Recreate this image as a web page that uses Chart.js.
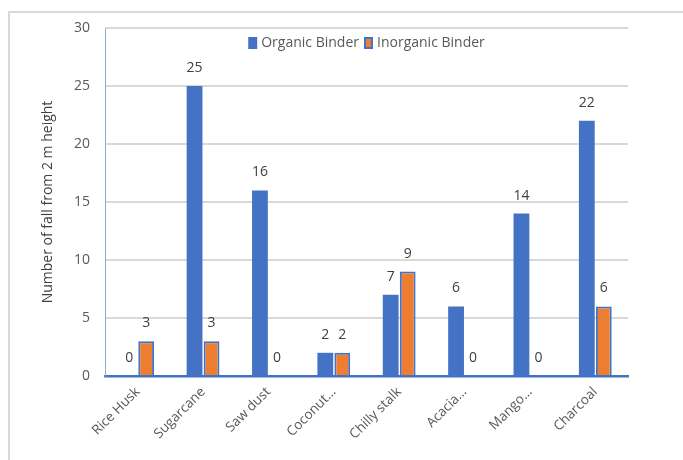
<!DOCTYPE html>
<html>
<head>
<meta charset="utf-8">
<script src="https://cdn.jsdelivr.net/npm/chart.js@4/dist/chart.umd.min.js"></script>
<style>
  html, body { margin: 0; padding: 0; background: #fff; overflow: hidden; }
  #frame { position: absolute; left: 8px; top: 11px; width: 720px; height: 480px; border: 2px solid #d9d9d9; }
  #wrap { position: absolute; left: 0; top: 0; width: 683px; height: 460px; }
</style>
</head>
<body>
<div id="frame"></div>
<div id="wrap"><canvas id="chart" width="683" height="460"></canvas></div>
<script>
// data
var categories = ['Rice Husk', 'Sugarcane', 'Saw dust', 'Coconut…', 'Chilly stalk', 'Acacia…', 'Mango…', 'Charcoal'];
var organic = [0, 25, 16, 2, 7, 6, 14, 22];
var inorganic = [3, 3, 0, 2, 9, 0, 0, 6];
var yTicks = [0, 5, 10, 15, 20, 25, 30];

var FONT = "'Open Sans', 'Liberation Sans', sans-serif";

// value labels above every bar
var barLabels = {
  id: 'barLabels',
  afterDatasetsDraw: function(chart) {
    var ctx = chart.ctx;
    ctx.save();
    ctx.font = '14px ' + FONT;
    ctx.fillStyle = '#404040';
    ctx.textAlign = 'center';
    ctx.textBaseline = 'bottom';
    chart.data.datasets.forEach(function(ds, i) {
      chart.getDatasetMeta(i).data.forEach(function(bar, j) {
        ctx.fillText(String(ds.data[j]), bar.x, bar.y - 11);
      });
    });
    ctx.restore();
  }
};

// legend drawn inside the top of the plot, in one row
var innerLegend = {
  id: 'innerLegend',
  afterDatasetsDraw: function(chart) {
    var ctx = chart.ctx;
    var area = chart.chartArea;
    ctx.save();
    ctx.font = '14px ' + FONT;
    ctx.textBaseline = 'middle';
    var boxW = 9, boxH = 12, gap = 4, sep = 5;
    var items = chart.data.datasets.map(function(ds) {
      return { ds: ds, w: boxW + gap + ctx.measureText(ds.label).width };
    });
    var total = items.reduce(function(s, it) { return s + it.w; }, 0) + sep * (items.length - 1);
    var x = (area.left + area.right) / 2 - total / 2;
    var y = area.top + 15;
    items.forEach(function(it) {
      ctx.fillStyle = it.ds.borderColor;
      ctx.fillRect(x, y - boxH / 2, boxW, boxH);
      if (it.ds.borderWidth) {
        ctx.fillStyle = it.ds.backgroundColor;
        ctx.fillRect(x + 2, y - boxH / 2 + 2, boxW - 4, boxH - 4);
      }
      ctx.fillStyle = '#595959';
      ctx.fillText(it.ds.label, x + boxW + gap, y);
      x += it.w + sep;
    });
    ctx.restore();
  }
};

new Chart(document.getElementById('chart').getContext('2d'), {
  type: 'bar',
  data: {
    labels: categories,
    datasets: [{
      label: 'Organic Binder',
      data: organic,
      backgroundColor: '#4472C4',
      borderColor: '#4472C4',
      borderWidth: 0,
      categoryPercentage: 0.52,
      barPercentage: 0.93
    }, {
      label: 'Inorganic Binder',
      data: inorganic,
      backgroundColor: '#ED7D31',
      borderColor: '#4472C4',
      borderWidth: 2,
      categoryPercentage: 0.52,
      barPercentage: 0.93
    }]
  },
  options: {
    responsive: false,
    animation: false,
    layout: { padding: { top: 28, right: 55, left: 0, bottom: 0 } },
    plugins: {
      legend: { display: false },
      tooltip: { enabled: false }
    },
    scales: {
      x: {
        grid: { display: false, drawTicks: false },
        border: { display: true, color: '#4472C4', width: 2.5 },
        ticks: {
          color: '#595959',
          font: { family: FONT, size: 13.5 },
          maxRotation: 45,
          minRotation: 45,
          padding: 8
        },
        afterFit: function(scale) { scale.height = 84; }
      },
      y: {
        min: 0,
        max: 30,
        afterBuildTicks: function(scale) {
          scale.ticks = yTicks.map(function(v) { return { value: v }; });
        },
        grid: { color: '#d9d9d9', lineWidth: 2, drawTicks: false },
        border: { display: true, color: '#8eaadb', width: 1 },
        ticks: {
          color: '#595959',
          font: { family: FONT, size: 14 },
          padding: 15
        },
        title: {
          display: true,
          text: 'Number of fall from 2 m height',
          color: '#404040',
          font: { family: FONT, size: 14 },
          padding: { top: 40, bottom: 0 }
        },
        afterFit: function(scale) { scale.width = 105; }
      }
    }
  },
  plugins: [barLabels, innerLegend]
});
</script>
</body>
</html>
